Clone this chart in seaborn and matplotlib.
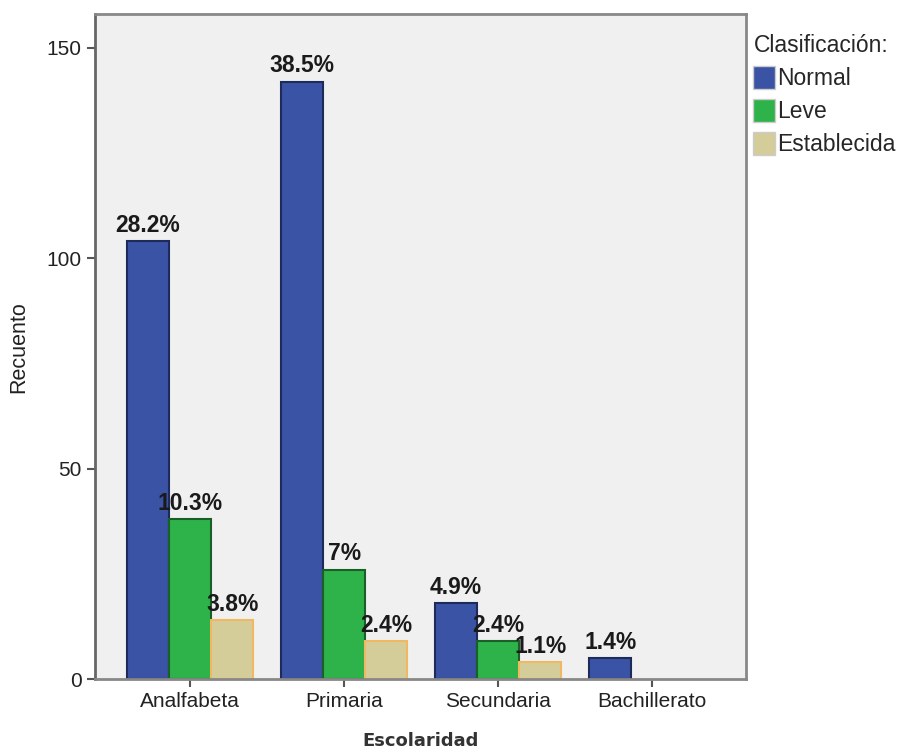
import pandas as pd
import matplotlib.pyplot as plt
import seaborn as sns
from matplotlib.patches import Patch

# Data
escolaridad = ["Analfabeta", "Primaria", "Secundaria", "Bachillerato"]
clasificacion = ["Normal", "Leve", "Establecida"]
normal = [104, 142, 18, 5]
leve = [38, 26, 9, 0]
establecida = [14, 9, 4, 0]
etiquetas_normal = ["28.2%", "38.5%", "4.9%", "1.4%"]
etiquetas_leve = ["10.3%", "7%", "2.4%", ""]
etiquetas_est = ["3.8%", "2.4%", "1.1%", ""]

rows = []
for i, esc in enumerate(escolaridad):
    for clas, vals, labs in [("Normal", normal, etiquetas_normal),
                             ("Leve", leve, etiquetas_leve),
                             ("Establecida", establecida, etiquetas_est)]:
        if vals[i] > 0:
            rows.append({"Escolaridad": esc, "Clasificación": clas,
                         "Recuento": vals[i], "label": labs[i]})
df = pd.DataFrame(rows)

colors = {"Normal": "#3A53A4", "Leve": "#2DB34A", "Establecida": "#D4CD9A"}
edges = {"Normal": "#1E2A5A", "Leve": "#1A5E28", "Establecida": "#F0B860"}

sns.set_style("white")
plt.rcParams['font.family'] = ['Liberation Sans', 'DejaVu Sans']

fig = plt.figure(figsize=(9.1, 7.52), dpi=100)
ax = fig.add_axes([0.104, 0.097, 0.716, 0.884])
ax.set_facecolor("#F0F0F0")

sns.barplot(data=df, x="Escolaridad", y="Recuento", hue="Clasificación",
            order=escolaridad, hue_order=clasificacion, palette=colors,
            width=0.82, gap=0, ax=ax, legend=False, saturation=1)

for container, clas in zip(ax.containers, clasificacion):
    for bar in container:
        bar.set_edgecolor(edges[clas])
        bar.set_linewidth(1.5)
    sub = df[df["Clasificación"] == clas]
    labs = list(sub["label"])
    ax.bar_label(container, labels=labs, padding=3, fontsize=16.5,
                 fontweight="bold", color="#1a1a1a")

ax.set_ylim(0, 158)
ax.set_xlim(-0.62, 3.61)
ax.set_yticks([0, 50, 100, 150])
ax.tick_params(axis="both", labelsize=15, length=6, width=1.5,
               color="#555555", bottom=True, left=True,
               labelcolor="#222222")
ax.set_xlabel("Escolaridad", fontsize=13, fontweight="bold", labelpad=15,
              family="DejaVu Sans", color="#333333")
ax.set_ylabel("Recuento", fontsize=15.5, labelpad=12, color="#222222")

for side, sp in ax.spines.items():
    sp.set_color("#888888")
    sp.set_linewidth(2)
ax.spines["left"].set_color("#666666")

handles = [Patch(facecolor=colors[c], edgecolor="#cccccc") for c in clasificacion]
fig.legend(handles, clasificacion, title="Clasificación:", loc="upper left",
           bbox_to_anchor=(0.828, 0.955), frameon=False,
           prop={"size": 16.5}, title_fontproperties={"size": 16.5},
           handlelength=0.95, handleheight=1.2, borderpad=0,
           handletextpad=0.1, labelspacing=0.38, borderaxespad=0,
           alignment="left")

fig.savefig("out.png", dpi=100)
